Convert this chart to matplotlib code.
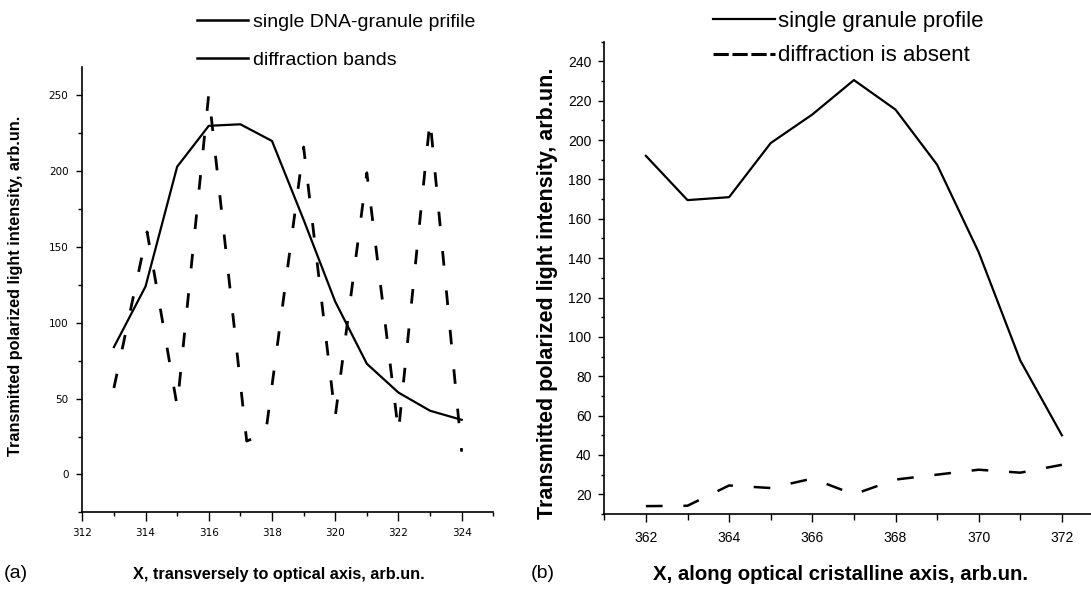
import numpy as np
import matplotlib
matplotlib.use("Agg")
import matplotlib.pyplot as plt
from matplotlib.lines import Line2D
from matplotlib.ticker import MultipleLocator

# --- panel (a): transversely to optical axis ---
xa_profile = [313, 314, 315, 316, 317, 318, 319, 320, 321, 322, 323, 324]
ya_profile = [84, 124, 203, 230, 231, 220, 168, 114, 73, 54, 42, 36]

# diffraction bands (peaks and troughs)
xa_bands = [313.0, 314.05, 315.0, 316.0, 317.2, 317.8, 319.0, 320.0, 321.0, 322.0, 323.0, 324.0]
ya_bands = [57, 160, 45, 251, 22, 27, 216, 38, 199, 28, 234, 15]

# --- panel (b): along optical cristalline axis ---
xb = [362, 363, 364, 365, 366, 367, 368, 369, 370, 371, 372]
yb_profile = [192, 169.5, 171, 198.5, 213, 230.5, 215.5, 187.5, 143, 88, 50]
yb_absent = [14, 14.2, 24.5, 23.2, 28, 20, 27.5, 30, 32.5, 31, 35]

sans = "Liberation Sans"

W, H = 1091, 593
fig = plt.figure(figsize=(W / 100, H / 100), dpi=100)

def px(x, y):
    return x / W, 1 - y / H

# ---------------- left panel ----------------
axa = fig.add_axes([82.3 / W, 1 - 512.3 / H, 411.0 / W, 445.6 / H])
axa.plot(xa_profile, ya_profile, color="black", lw=1.6)
lw = 2.0
axa.plot(xa_bands, ya_bands, color="black", lw=lw, linestyle=(0, (10.5 / lw, 18 / lw)))
axa.set_xlim(312, 325)
axa.set_ylim(-25, 269)
axa.xaxis.set_major_locator(MultipleLocator(2))
axa.xaxis.set_minor_locator(MultipleLocator(1))
axa.yaxis.set_major_locator(MultipleLocator(50))
axa.yaxis.set_minor_locator(MultipleLocator(25))
axa.tick_params(axis="x", which="major", length=6.5, width=1, pad=5, labelsize=7.5)
axa.tick_params(axis="x", which="minor", length=3, width=1)
axa.tick_params(axis="y", which="major", length=4, width=1, pad=6, labelsize=7.5)
axa.tick_params(axis="y", which="minor", length=3, width=1)
for s in ["top", "right"]:
    axa.spines[s].set_visible(False)
for s in ["left", "bottom"]:
    axa.spines[s].set_linewidth(1.2)

fig.text(*px(16, 286), "Transmitted polarized light intensity, arb.un.", rotation=90,
         ha="center", va="center", fontsize=11.7, fontweight="bold", family=sans)
fig.text(*px(279, 574), "X, transversely to optical axis, arb.un.",
         ha="center", va="center", fontsize=11.7, fontweight="bold", family=sans)
fig.text(*px(4, 574), "(a)", ha="left", va="center", fontsize=14, family=sans)

axa.legend(handles=[Line2D([], [], color="black", lw=1.8),
                    Line2D([], [], color="black", lw=1.8)],
           labels=["single DNA-granule prifile", "diffraction bands"],
           loc="upper left", bbox_to_anchor=px(197, 13), bbox_transform=fig.transFigure,
           frameon=False, borderpad=0, borderaxespad=0, handlelength=2.6,
           handletextpad=0.26, labelspacing=1.05, prop={"family": sans, "size": 14})

# ---------------- right panel ----------------
axb = fig.add_axes([604.3 / W, 1 - 514 / H, 499.2 / W, 472.3 / H])
axb.plot(xb, yb_profile, color="black", lw=1.6)
lw2 = 1.8
axb.plot(xb, yb_absent, color="black", lw=lw2, linestyle=(0, (12 / lw2, 15 / lw2)))
axb.set_xlim(361, 373)
axb.set_ylim(10, 250)
axb.xaxis.set_major_locator(MultipleLocator(2))
axb.xaxis.set_minor_locator(MultipleLocator(1))
axb.yaxis.set_major_locator(MultipleLocator(20))
axb.yaxis.set_minor_locator(MultipleLocator(10))
axb.tick_params(axis="x", which="major", length=6, width=1, pad=6, labelsize=10)
axb.tick_params(axis="x", which="minor", length=4, width=1)
axb.tick_params(axis="y", which="major", length=4.3, width=1, pad=5, labelsize=10)
axb.tick_params(axis="y", which="minor", length=2.4, width=1)
for lab in axb.get_xticklabels() + axb.get_yticklabels():
    lab.set_family(sans)
for s in ["top", "right"]:
    axb.spines[s].set_visible(False)
for s in ["left", "bottom"]:
    axb.spines[s].set_linewidth(1.2)

fig.text(*px(547, 293), "Transmitted polarized light intensity, arb.un.", rotation=90,
         ha="center", va="center", fontsize=15.5, fontweight="bold", family=sans)
fig.text(*px(841, 574), "X, along optical cristalline axis, arb.un.",
         ha="center", va="center", fontsize=14.7, fontweight="bold", family=sans)
fig.text(*px(531, 574), "(b)", ha="left", va="center", fontsize=14, family=sans)

axb.legend(handles=[Line2D([], [], color="black", lw=1.6),
                    Line2D([], [], color="black", lw=2.2, linestyle=(0, (5, 1.2)))],
           labels=["single granule profile", "diffraction is absent"],
           loc="upper left", bbox_to_anchor=px(713, 11), bbox_transform=fig.transFigure,
           frameon=False, borderpad=0, borderaxespad=0, handlelength=2.8,
           handletextpad=0.13, labelspacing=0.6, prop={"family": sans, "size": 16})

fig.savefig("out.png", dpi=100)
